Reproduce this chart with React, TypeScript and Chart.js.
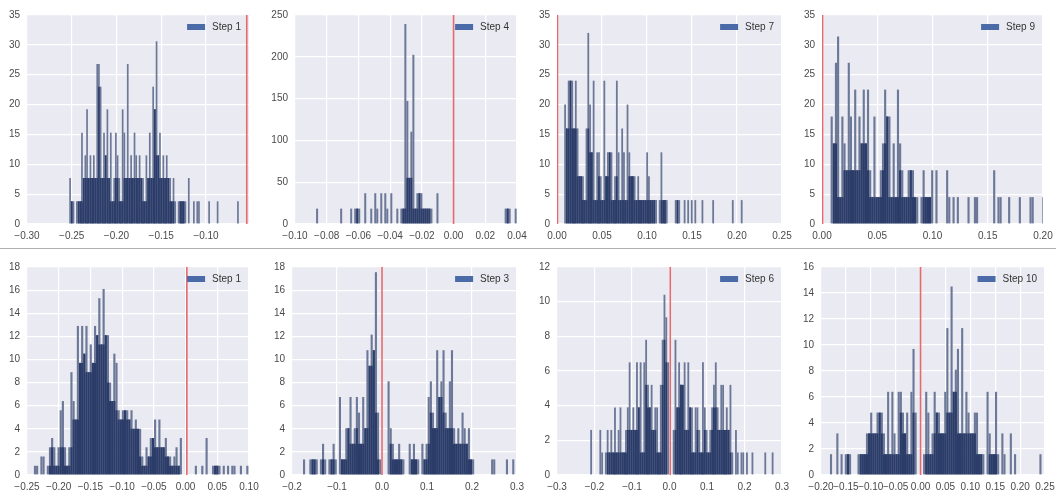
import React, { useEffect, useRef } from "react";
import { Chart, registerables } from "chart.js";

Chart.register(...registerables);

// ---------- DATA (histogram densities per bin) ----------
const legendLabels = ["Step 1", "Step 4", "Step 7", "Step 9", "Step 1", "Step 3", "Step 6", "Step 10"];

const step1TopValues = [
  7.7, 3.8, 3.8, 0, 3.8, 3.8, 3.8, 15.3, 7.7, 11.5,
  19.2, 7.7, 11.5, 7.7, 11.5, 7.7, 26.8, 26.8, 23, 7.7,
  15.3, 11.5, 19.2, 7.7, 15.3, 3.8, 7.7, 15.3, 11.5, 7.7,
  3.8, 19.2, 15.3, 7.7, 26.8, 7.7, 11.5, 7.7, 15.3, 11.5,
  7.7, 11.5, 7.7, 7.7, 3.8, 11.5, 7.7, 15.3, 7.7, 23,
  19.2, 30.6, 11.5, 15.3, 7.7, 11.5, 7.7, 11.5, 7.7, 7.7,
  3.8, 7.7, 3.8, 0, 3.8, 3.8, 3.8, 3.8, 3.8, 0,
  7.7, 0, 0, 3.8, 0, 3.8, 3.8, 0, 0, 0,
  0, 0, 3.8, 0, 0, 0, 0, 3.8, 0, 0,
  0, 0, 0, 0, 0, 0, 0, 0, 0, 3.8,
];

const step4TopValues = [
  18.4, 0, 0, 0, 0, 0, 0, 0, 0, 0,
  0, 0, 18.4, 0, 0, 0, 0, 18.4, 0, 18.4,
  18.4, 18.4, 0, 0, 36.8, 0, 0, 18.4, 0, 36.8,
  18.4, 0, 36.8, 0, 36.8, 18.4, 0, 36.8, 0, 0,
  18.4, 0, 18.4, 18.4, 239.2, 147.2, 55.2, 110.4, 202.4, 18.4,
  36.8, 36.8, 36.8, 18.4, 18.4, 18.4, 18.4, 18.4, 0, 0,
  36.8, 0, 0, 0, 0, 0, 0, 0, 0, 0,
  0, 0, 0, 0, 0, 0, 0, 0, 0, 0,
  0, 0, 0, 0, 0, 0, 0, 0, 0, 0,
  0, 0, 0, 0, 18.4, 18.4, 18.4, 0, 0, 18.4,
];

const step7TopValues = [
  20, 16, 24, 24, 24, 16, 24, 16, 8, 8,
  8, 4, 16, 32, 20, 12, 24, 4, 12, 12,
  8, 4, 24, 8, 12, 12, 12, 4, 8, 24,
  12, 4, 16, 12, 4, 20, 12, 8, 8, 8,
  4, 8, 4, 4, 4, 4, 12, 8, 4, 4,
  4, 4, 0, 4, 12, 4, 4, 4, 0, 0,
  0, 0, 4, 4, 4, 0, 0, 4, 0, 4,
  0, 4, 0, 4, 0, 0, 0, 4, 0, 0,
  0, 0, 0, 4, 0, 0, 0, 0, 0, 0,
  0, 0, 0, 0, 4, 0, 0, 0, 0, 4,
];

const step9TopValues = [
  18, 13.5, 27, 31.4, 4.5, 18, 13.5, 9, 27, 18,
  9, 22.5, 9, 18, 13.5, 22.5, 13.5, 22.5, 9, 4.5,
  18, 4.5, 4.5, 9, 13.5, 22.5, 18, 18, 4.5, 13.5,
  4.5, 22.5, 13.5, 9, 4.5, 4.5, 9, 9, 9, 4.5,
  4.5, 0, 4.5, 9, 4.5, 4.5, 4.5, 9, 0, 9,
  0, 0, 0, 0, 9, 4.5, 0, 4.5, 0, 4.5,
  0, 0, 0, 0, 4.5, 0, 0, 4.5, 4.5, 0,
  0, 0, 0, 0, 0, 0, 9, 0, 4.5, 4.5,
  0, 0, 0, 4.5, 0, 0, 0, 0, 4.5, 0,
  0, 0, 0, 4.5, 4.5, 0, 0, 0, 0, 4.5,
];

const step1BottomValues = [
  0.8, 0.8, 0, 1.6, 1.6, 0, 0.8, 2.4, 3.2, 2.4,
  0.8, 2.4, 5.6, 6.4, 2.4, 0.8, 2.4, 8.9, 6.4, 4.8,
  12.9, 9.7, 12.9, 10.5, 12.9, 8.9, 11.3, 9.7, 12.9, 12.1,
  15.3, 11.3, 16.1, 12.1, 12.1, 8.0, 6.4, 10.5, 9.7, 5.6,
  4.8, 5.6, 5.6, 5.6, 4.8, 5.6, 4.0, 4.8, 4.0, 4.0,
  1.6, 0.8, 2.4, 1.6, 3.2, 3.2, 4.8, 2.4, 4.8, 2.4,
  2.4, 3.2, 1.6, 1.6, 0.8, 1.6, 2.4, 0.8, 3.2, 0,
  0, 0, 0, 0, 0, 0.8, 0, 0, 0.8, 0,
  3.2, 0, 0, 0.8, 0.8, 0.8, 0.8, 0, 0.8, 0,
  0.8, 0, 0.8, 0.8, 0, 0, 0.8, 0, 0, 0.8,
];

const step3BottomValues = [
  1.35, 0, 0, 1.35, 1.35, 1.35, 1.35, 0, 1.35, 2.7,
  1.35, 0, 1.35, 1.35, 2.7, 1.35, 0, 6.75, 1.35, 1.35,
  4.05, 4.05, 6.75, 2.7, 4.05, 6.75, 5.4, 2.7, 6.75, 4.05,
  10.8, 9.45, 12.15, 10.8, 17.55, 5.4, 1.35, 0, 0, 0,
  8.1, 4.05, 2.7, 1.35, 1.35, 2.7, 1.35, 1.35, 0, 0,
  2.7, 1.35, 2.7, 1.35, 1.35, 0, 2.7, 1.35, 2.7, 6.75,
  8.1, 5.4, 4.05, 10.8, 6.75, 8.1, 10.8, 5.4, 4.05, 8.1,
  10.8, 4.05, 2.7, 4.05, 2.7, 5.4, 4.05, 2.7, 4.05, 1.35,
  1.35, 0, 0, 0, 0, 0, 0, 0, 0, 1.35,
  1.35, 0, 0, 0, 0, 0, 1.35, 0, 0, 1.35,
];

const step6BottomValues = [
  2.6, 0, 0, 0, 0, 2.6, 1.3, 0, 1.3, 2.6,
  1.3, 2.6, 1.3, 3.9, 1.3, 2.6, 3.9, 1.3, 1.3, 2.6,
  3.9, 6.5, 2.6, 3.9, 2.6, 6.5, 3.9, 6.5, 1.3, 6.5,
  7.8, 5.2, 3.9, 5.2, 2.6, 3.9, 3.9, 1.3, 5.2, 7.8,
  10.4, 9.1, 6.5, 0, 0, 2.6, 7.8, 3.9, 6.5, 5.2,
  5.2, 6.5, 2.6, 6.5, 3.9, 3.9, 1.3, 3.9, 3.9, 2.6,
  1.3, 6.5, 3.9, 2.6, 1.3, 2.6, 3.9, 5.2, 6.5, 3.9,
  2.6, 5.2, 5.2, 2.6, 3.9, 2.6, 5.2, 1.3, 0, 2.6,
  1.3, 0, 1.3, 1.3, 0, 1.3, 0, 0, 1.3, 0,
  0, 0, 0, 0, 0, 1.3, 0, 0, 0, 1.3,
];

const step10BottomValues = [
  1.6, 0, 0, 3.2, 0, 1.6, 0, 1.6, 1.6, 1.6,
  0, 0, 0, 1.6, 1.6, 1.6, 1.6, 3.2, 3.2, 4.8,
  3.2, 3.2, 4.8, 4.8, 4.8, 3.2, 1.6, 6.4, 1.6, 6.4,
  3.2, 1.6, 6.4, 6.4, 4.8, 3.2, 4.8, 1.6, 6.4, 9.7,
  4.8, 0, 0, 0, 1.6, 6.4, 4.8, 1.6, 3.2, 6.4,
  4.8, 4.8, 3.2, 3.2, 6.4, 11.3, 4.8, 14.5, 6.4, 8.1,
  9.7, 3.2, 11.3, 3.2, 6.4, 4.8, 3.2, 3.2, 4.8, 4.8,
  1.6, 1.6, 1.6, 0, 6.4, 3.2, 1.6, 1.6, 6.4, 1.6,
  0, 3.2, 1.6, 0, 0, 3.2, 0, 1.6, 0, 0,
  0, 0, 0, 0, 0, 0, 0, 0, 0, 1.6,
];

const histogramValues = [
  step1TopValues, step4TopValues, step7TopValues, step9TopValues,
  step1BottomValues, step3BottomValues, step6BottomValues, step10BottomValues,
];

// first / last bin edge of each histogram
const binStarts = [-0.2528, -0.0867, 0.008, 0.0078, -0.2391, -0.1756, -0.2114, -0.182];
const binEnds = [-0.0634, 0.0398, 0.2062, 0.2013, 0.0991, 0.2941, 0.2774, 0.243];

// red reference line positions
const referenceLines = [-0.0545, 0.0, 0.0005, 0.0005, 0.002, 0.0, 0.002, 0.0];

// axis limits and tick labels
const xLimitsMin = [-0.3, -0.1, 0, 0, -0.25, -0.2, -0.3, -0.2];
const xLimitsMax = [-0.052, 0.04, 0.25, 0.2, 0.1, 0.3, 0.3, 0.25];
const xTickValues = [
  [-0.3, -0.25, -0.2, -0.15, -0.1],
  [-0.1, -0.08, -0.06, -0.04, -0.02, 0, 0.02, 0.04],
  [0, 0.05, 0.1, 0.15, 0.2, 0.25],
  [0, 0.05, 0.1, 0.15, 0.2],
  [-0.25, -0.2, -0.15, -0.1, -0.05, 0, 0.05, 0.1],
  [-0.2, -0.1, 0, 0.1, 0.2, 0.3],
  [-0.3, -0.2, -0.1, 0, 0.1, 0.2, 0.3],
  [-0.2, -0.15, -0.1, -0.05, 0, 0.05, 0.1, 0.15, 0.2, 0.25],
];
const xTickDecimals = [2, 2, 2, 2, 2, 1, 1, 2];
const yLimitsMax = [35, 250, 35, 35, 18, 18, 12, 16];
const yTickValues = [
  [0, 5, 10, 15, 20, 25, 30, 35],
  [0, 50, 100, 150, 200, 250],
  [0, 5, 10, 15, 20, 25, 30, 35],
  [0, 5, 10, 15, 20, 25, 30, 35],
  [0, 2, 4, 6, 8, 10, 12, 14, 16, 18],
  [0, 2, 4, 6, 8, 10, 12, 14, 16, 18],
  [0, 2, 4, 6, 8, 10, 12],
  [0, 2, 4, 6, 8, 10, 12, 14, 16],
];

// ---------- LAYOUT (page pixels of each plot area: left, top, right, bottom) ----------
const plotRects: [number, number, number, number][] = [
  [27, 10, 249, 224],
  [295, 10, 517, 224],
  [557, 10, 782, 224],
  [822, 10, 1043, 224],
  [27, 262, 249, 475],
  [292, 262, 517, 475],
  [557, 262, 782, 475],
  [821, 262, 1045, 475],
];

const FONT_FAMILY = '"Liberation Sans", Arial, sans-serif';
const AX_W = 30;
const PAD_T = 8;
const PAD_R = 20;
const AX_H = 22;

function formatTick(v: number, d: number): string {
  const val = Math.abs(v) < 1e-9 ? 0 : v;
  return val.toFixed(d).replace("-", "\u2212");
}

function Panel({ index }: { index: number }) {
  const ref = useRef<HTMLCanvasElement | null>(null);
  const [L, T, R, B] = plotRects[index];
  const width = R - L + AX_W + PAD_R;
  const height = B - T + PAD_T + AX_H;

  useEffect(() => {
    if (!ref.current) return;
    const values = histogramValues[index];
    const lo = binStarts[index];
    const hi = binEnds[index];
    const w = (hi - lo) / values.length;
    const centers = values.map((_, i) => lo + (i + 0.5) * w);
    const bars = values.map((y, i) => ({ x: centers[i], y }));
    // solid part of each bin, where it is flanked by neighbours at least as tall
    const core = values.map((y, i) => ({
      x: centers[i],
      y: Math.min(y, i > 0 ? values[i - 1] : 0, i < values.length - 1 ? values[i + 1] : 0),
    }));
    const label = legendLabels[index];
    const dec = xTickDecimals[index];
    const xt = xTickValues[index];
    const yt = yTickValues[index];

    const decor = {
      id: "panelDecor" + index,
      beforeDraw(chart: any) {
        const { ctx, chartArea: a } = chart;
        ctx.save();
        ctx.fillStyle = "#eaeaf2";
        ctx.fillRect(a.left, a.top, a.right - a.left, a.bottom - a.top);
        ctx.restore();
      },
      afterDraw(chart: any) {
        const { ctx, chartArea: a } = chart;
        ctx.save();
        ctx.font = "10px " + FONT_FAMILY;
        const tw = ctx.measureText(label).width;
        const tx = a.right - 8 - tw;
        const cy = a.top + 12;
        ctx.fillStyle = "#4a6aa8";
        ctx.fillRect(tx - 7 - 18, cy - 3, 18, 6);
        ctx.fillStyle = "#333333";
        ctx.textBaseline = "middle";
        ctx.textAlign = "left";
        ctx.fillText(label, tx, cy + 0.5);
        ctx.restore();
      },
    };

    const tickFont = { family: FONT_FAMILY, size: 10 };

    const chart = new Chart(ref.current, {
      type: "bar",
      data: {
        datasets: [
          {
            type: "line",
            label: "reference",
            data: [
              { x: referenceLines[index], y: 0 },
              { x: referenceLines[index], y: yLimitsMax[index] },
            ],
            borderColor: "#e5696d",
            borderWidth: 1.6,
            pointRadius: 0,
            fill: false,
          } as any,
          {
            type: "bar",
            label: label + " core",
            data: core,
            backgroundColor: "#2b3c69",
            borderWidth: 0,
            barPercentage: 1,
            categoryPercentage: 1,
            grouped: false,
            inflateAmount: 0,
          } as any,
          {
            type: "bar",
            label,
            data: bars,
            backgroundColor: "#6c7897",
            borderWidth: 0,
            barPercentage: 1,
            categoryPercentage: 1,
            grouped: false,
            inflateAmount: 0,
          } as any,
        ],
      },
      options: {
        animation: false,
        responsive: false,
        devicePixelRatio: 1,
        layout: { padding: { left: 0, top: PAD_T, right: PAD_R, bottom: 0 } },
        plugins: {
          legend: { display: false },
          tooltip: { enabled: false },
        },
        scales: {
          x: {
            type: "linear",
            min: xLimitsMin[index],
            max: xLimitsMax[index],
            offset: false,
            grid: { color: "#ffffff", lineWidth: 1.2, drawTicks: false, offset: false },
            border: { display: false },
            afterBuildTicks: (s: any) => {
              s.ticks = xt.map((v) => ({ value: v }));
            },
            ticks: {
              autoSkip: false,
              maxRotation: 0,
              minRotation: 0,
              padding: 6,
              color: "#4a4a4a",
              font: tickFont,
              callback: (v: any) => formatTick(Number(v), dec),
            },
            afterFit: (s: any) => {
              s.height = AX_H;
            },
          },
          y: {
            type: "linear",
            min: 0,
            max: yLimitsMax[index],
            grid: { color: "#ffffff", lineWidth: 1.2, drawTicks: false },
            border: { display: false },
            afterBuildTicks: (s: any) => {
              s.ticks = yt.map((v) => ({ value: v }));
            },
            ticks: {
              padding: 7,
              color: "#4a4a4a",
              font: tickFont,
              callback: (v: any) => String(Math.round(Number(v))),
            },
            afterFit: (s: any) => {
              s.width = AX_W;
            },
          },
        },
      } as any,
      plugins: [decor],
    });
    return () => chart.destroy();
  }, [index]);

  return (
    <canvas
      ref={ref}
      width={width}
      height={height}
      style={{ position: "absolute", left: L - AX_W, top: T - PAD_T, width, height, display: "block" }}
    />
  );
}

export default function App() {
  return (
    <div
      style={{
        position: "fixed",
        left: 0,
        top: 0,
        width: 1056,
        height: 493,
        background: "#ffffff",
        overflow: "hidden",
      }}
    >
      {plotRects.map((_, i) => (
        <Panel key={i} index={i} />
      ))}
      <div
        style={{
          position: "absolute",
          left: 0,
          top: 248,
          width: 1056,
          height: 0,
          borderTop: "1px solid #b0b0b0",
        }}
      />
    </div>
  );
}
